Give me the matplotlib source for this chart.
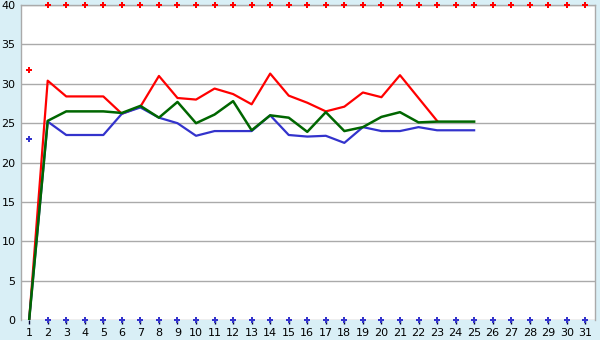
import matplotlib
matplotlib.use("Agg")
import matplotlib.pyplot as plt

days = list(range(1, 32))
max_marks_x = [1] + list(range(2, 32))
max_marks_y = [31.8] + [40] * 30
min_marks_x = [1] + list(range(2, 32))
min_marks_y = [23.0] + [0] * 30

red_x = list(range(1, 24))
red_y = [0, 30.4, 28.4, 28.4, 28.4, 26.2, 27.1, 31.0, 28.2, 28.0, 29.4, 28.7, 27.4,
         31.3, 28.5, 27.6, 26.5, 27.1, 28.9, 28.3, 31.1, 28.2, 25.3]
green_x = list(range(1, 26))
green_y = [0, 25.3, 26.5, 26.5, 26.5, 26.3, 27.2, 25.7, 27.7, 25.0, 26.1, 27.8, 24.1,
           26.0, 25.7, 23.9, 26.4, 24.0, 24.5, 25.8, 26.4, 25.1, 25.2, 25.2, 25.2]
blue_x = list(range(1, 26))
blue_y = [0, 25.2, 23.5, 23.5, 23.5, 26.2, 27.0, 25.7, 25.0, 23.4, 24.0, 24.0, 24.0,
          26.0, 23.5, 23.3, 23.4, 22.5, 24.5, 24.0, 24.0, 24.5, 24.1, 24.1, 24.1]
yticks = [0, 5, 10, 15, 20, 25, 30, 35, 40]

bg = "#d9eff6"
fig = plt.figure(figsize=(6, 3.4), dpi=100, facecolor=bg)
ax = fig.add_axes([0.035, 0.0588, 0.9567, 0.9262])
ax.set_facecolor("white")

ax.plot(red_x, red_y, color="#ff0000", lw=1.6)
ax.plot(blue_x, blue_y, color="#3333cc", lw=1.6)
ax.plot(green_x, green_y, color="#006600", lw=1.8)
ax.plot(max_marks_x, max_marks_y, ls="none", marker="P", ms=4.5, mew=0, color="#ff0000", clip_on=False, zorder=5)
ax.plot(min_marks_x, min_marks_y, ls="none", marker="P", ms=4.5, mew=0, color="#3333cc", clip_on=False, zorder=5)

ax.set_xlim(0.56, 31.52)
ax.set_ylim(0, 40)
ax.set_xticks(days)
ax.set_xticklabels([str(d) for d in days])
ax.set_yticks(yticks)
ax.yaxis.grid(True, color="#aaaaaa", lw=1)
ax.set_axisbelow(True)
ax.tick_params(axis="y", length=0, labelsize=8, colors="#000000", pad=4)
ax.tick_params(axis="x", length=3, width=1, color="#000033", labelsize=8, labelcolor="#000000", pad=3)
for s in ax.spines.values():
    s.set_color("#aaaaaa")
    s.set_linewidth(1)
ax.spines["bottom"].set_visible(False)

fig.savefig("out.png", dpi=100, facecolor=bg)
